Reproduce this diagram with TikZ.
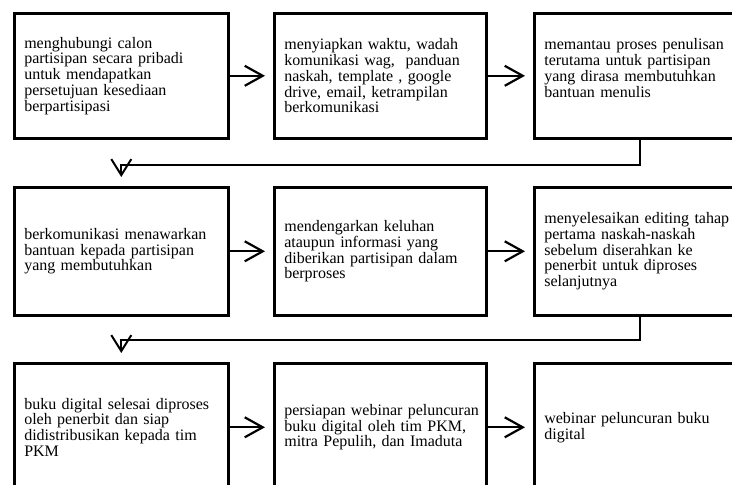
\documentclass[tikz,border=0pt]{standalone}
\usepackage{fontspec}
\setmainfont{Liberation Serif}
\usetikzlibrary{arrows.meta,calc}
\begin{document}
\begin{tikzpicture}[x=1bp,y=-1bp,
  box/.style={draw=black, line width=2.6bp, rectangle, anchor=north west,
    align=left, inner xsep=10bp, inner ysep=0bp,
    execute at begin node={\hyphenpenalty=10000 \exhyphenpenalty=10000 },
    font=\fontsize{16bp}{15.8bp}\selectfont},
  boxa/.style={box, text width=194bp, minimum height=125bp},
  boxb/.style={box, text width=192bp, minimum height=128bp},
  arr/.style={draw=black, line width=2.2bp,
    -{Straight Barb[length=18bp,width=20bp,line width=2.2bp]}},
  conn/.style={draw=black, line width=2bp,
    -{Straight Barb[length=16bp,width=20bp,line width=2bp]}}]
\useasboundingbox (0,0) rectangle (732,485);

\node[boxa] (b1) at (13,12) {menghubungi calon\\partisipan secara pribadi\\untuk mendapatkan\\persetujuan kesediaan\\berpartisipasi};
\node[boxb, minimum height=125bp] (b2) at (273,12) {menyiapkan waktu, wadah\\komunikasi wag, \ panduan\\naskah, template , google\\drive, email, ketrampilan\\berkomunikasi};
\node[boxb, minimum height=125bp] (b3) at (533,12) {memantau proses penulisan\\terutama untuk partisipan\\yang dirasa membutuhkan\\bantuan menulis\\\mbox{}};

\node[box, text width=194bp, minimum height=128bp] (b4) at (13,186) {berkomunikasi menawarkan\\bantuan kepada partisipan\\yang membutuhkan};
\node[boxb] (b5) at (273,186) {mendengarkan keluhan\\ataupun informasi yang\\diberikan partisipan dalam\\berproses};
\node[boxb] (b6) at (533,186) {menyelesaikan editing tahap\\pertama naskah-naskah\\sebelum diserahkan ke\\penerbit untuk diproses\\selanjutnya};

\node[box, text width=194bp, minimum height=128bp] (b7) at (13,362) {buku digital selesai diproses\\oleh penerbit dan siap\\didistribusikan kepada tim\\PKM};
\node[boxb] (b8) at (273,362) {\mbox{persiapan webinar peluncuran}\\buku digital oleh tim PKM,\\mitra Pepulih, dan Imaduta};
\node[boxb] (b9) at (533,362) {webinar peluncuran buku\\digital};

\draw[arr] (b1.east) -- ($(b2.west)+(-8,0)$);
\draw[arr] (b2.east) -- ($(b3.west)+(-8,0)$);
\draw[arr] (b4.east) -- ($(b5.west)+(-8,0)$);
\draw[arr] (b5.east) -- ($(b6.west)+(-8,0)$);
\draw[arr] (b7.east) -- ($(b8.west)+(-8,0)$);
\draw[arr] (b8.east) -- ($(b9.west)+(-8,0)$);

\draw[conn] (b3.south) -- ++(0,25) -| ($(b4.north)+(0,-9)$);
\draw[conn] (b6.south) -- ++(0,23) -| ($(b7.north)+(0,-9)$);
\end{tikzpicture}
\end{document}
